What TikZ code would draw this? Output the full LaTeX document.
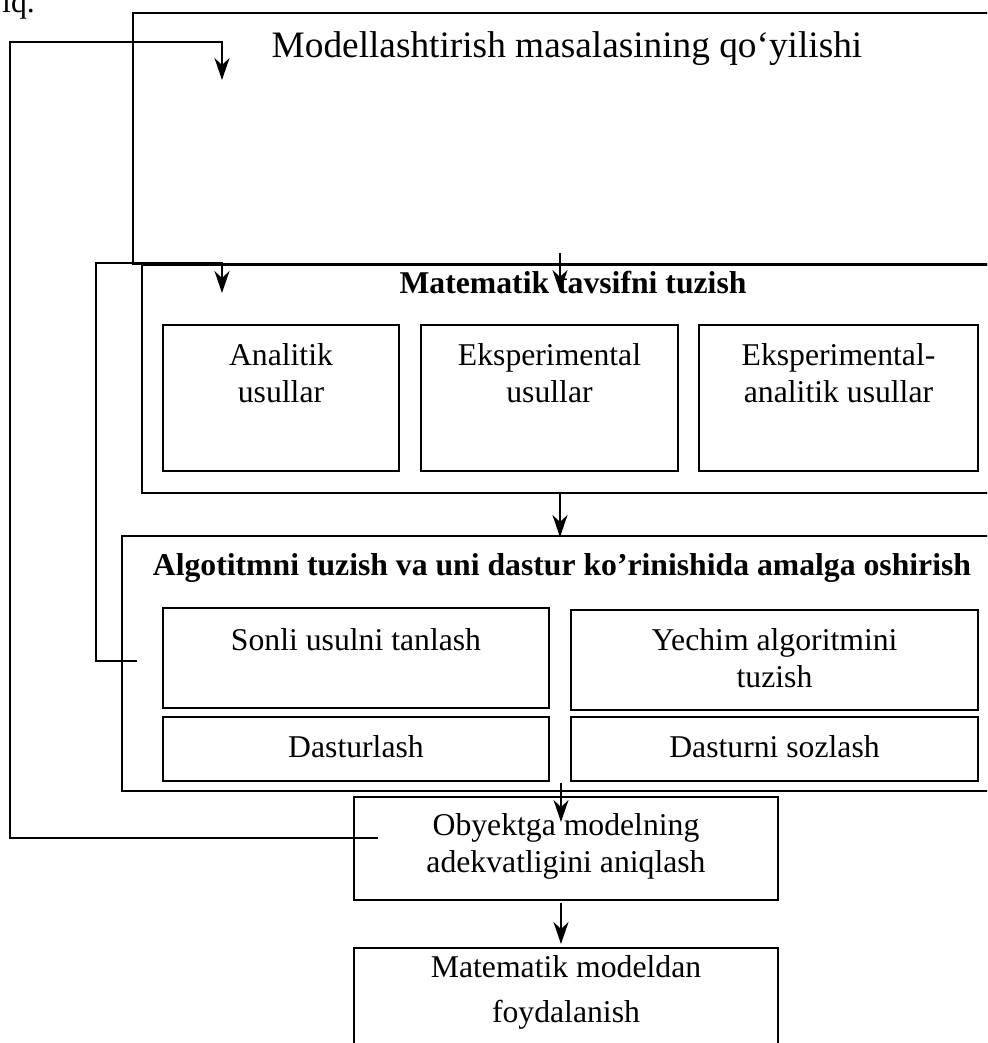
\documentclass[tikz,border=0pt]{standalone}
\usepackage{fontspec}
\setmainfont{Liberation Serif}
\usetikzlibrary{arrows.meta}
\begin{document}
\begin{tikzpicture}[x=1pt,y=-1pt,
  box/.style={draw, inner sep=0pt, outer sep=0pt, line width=1.9pt},
  lbl/.style={inner sep=0pt, align=center, anchor=base,
              font=\fontsize{31.7}{37}\selectfont},
  ttl/.style={lbl, font=\fontsize{31.7}{37}\selectfont\bfseries},
  arr/.style={line width=1.9pt, -{Stealth[length=22pt,width=15pt,inset=7pt]}}]
\useasboundingbox (0,0) rectangle (987,1043);
\clip (0,0) rectangle (987,1043);

% stray text from the preceding line
\node[lbl, anchor=base east] (prev) at (35,13) {iq.};

% outer stages
\node[box, minimum width=867pt, minimum height=251pt] (b1) at (566.5,138.5) {};
\node[box, minimum width=858pt, minimum height=228pt] (b2) at (571,379) {};
\node[box, minimum width=878pt, minimum height=255pt] (b3) at (561,663.5) {};
\node[box, minimum width=424pt, minimum height=103pt] (b4) at (566,848.5) {};
\node[box, minimum width=424pt, minimum height=122pt] (b5) at (566,1009) {};

% inner boxes of stage 2
\node[box, minimum width=236pt, minimum height=146pt] (m1) at (281,398) {};
\node[box, minimum width=257pt, minimum height=146pt] (m2) at (549.5,398) {};
\node[box, minimum width=279pt, minimum height=146pt] (m3) at (838.5,398) {};

% inner boxes of stage 3
\node[box, minimum width=386pt, minimum height=100pt] (a1) at (356,658) {};
\node[box, minimum width=407pt, minimum height=100pt] (a2) at (774.5,660) {};
\node[box, minimum width=386pt, minimum height=64pt] (a3) at (356,749) {};
\node[box, minimum width=407pt, minimum height=64pt] (a4) at (774.5,749) {};

% texts (two-line labels are placed by the baseline of their last line)
\node[lbl, font=\fontsize{37.3}{42}\selectfont] (t1) at (567,58) {Modellashtirish masalasining qo‘yilishi};
\node[ttl] (t2) at (573,293) {Matematik tavsifni tuzish};
\node[ttl] (t3) at (562,575) {Algotitmni tuzish va uni dastur ko’rinishida amalga oshirish};
\node[lbl] (tm1) at (281,402) {Analitik\\usullar};
\node[lbl] (tm2) at (549.5,402) {Eksperimental\\usullar};
\node[lbl] (tm3) at (838.5,402) {Eksperimental-\\analitik usullar};
\node[lbl] (ta1) at (356,650) {Sonli usulni tanlash};
\node[lbl] (ta2) at (774.5,687) {Yechim algoritmini\\tuzish};
\node[lbl] (ta3) at (356,757) {Dasturlash};
\node[lbl] (ta4) at (774.5,757) {Dasturni sozlash};
\node[lbl] (t4) at (566,872) {Obyektga modelning\\adekvatligini aniqlash};
\node[lbl, font=\fontsize{31.7}{45}\selectfont] (t5) at (566,1022) {Matematik modeldan\\foydalanish};

% connector end points
\coordinate (s12) at (560,253);
\coordinate (e12) at (560,292);
\coordinate (s23) at (560,494);
\coordinate (e23) at (560,537);
\coordinate (s34) at (561,783);
\coordinate (e34) at (561,822);
\coordinate (s45) at (561,903);
\coordinate (e45) at (561,944);
\coordinate (fb3) at (137,661);
\coordinate (fb3t) at (222,293);
\coordinate (fb4) at (378,838);
\coordinate (fb4t) at (222,80);

% forward arrows
\draw[arr] (s12) -- (e12);
\draw[arr] (s23) -- (e23);
\draw[arr] (s34) -- (e34);
\draw[arr] (s45) -- (e45);

% feedback loops
\draw[arr] (fb3) -- (96,661) -- (96,263) -- (222,263) -- (fb3t);
\draw[arr] (fb4) -- (10,838) -- (10,42) -- (222,42) -- (fb4t);
\end{tikzpicture}
\end{document}
